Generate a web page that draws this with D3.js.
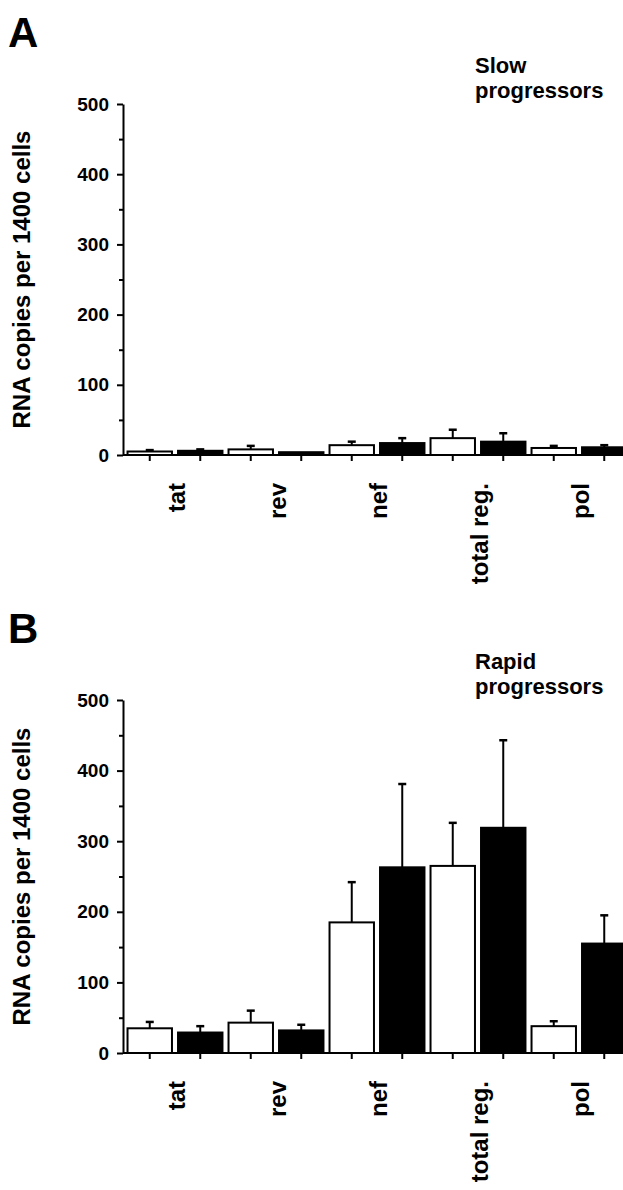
<!DOCTYPE html>
<html>
<head>
<meta charset="utf-8">
<script src="https://cdn.jsdelivr.net/npm/d3@7"></script>
<style>
  body { margin: 0; background: #fff; }
  svg { display: block; }
  text { font-family: "Liberation Sans", Arial, Helvetica, sans-serif; font-weight: bold; fill: #000; }
  .axis path, .axis line { stroke: #000; stroke-width: 2; }
</style>
</head>
<body>
<div id="chart"></div>
<script>
// values (RNA copies per 1400 cells, mean + error)
var genes = ["tat", "rev", "nef", "total reg.", "pol"];
var groups = ["open", "filled"];
var yTicks = [0, 100, 200, 300, 400, 500];

var slowOpen = [5, 8, 14, 24, 10],
    slowOpenErr = [2, 5, 5, 12, 3],
    slowFilled = [6, 4, 17, 19, 11],
    slowFilledErr = [2, 0, 7, 12, 3];

var rapidOpen = [35, 43, 185, 265, 38],
    rapidOpenErr = [9, 17, 57, 61, 7],
    rapidFilled = [29, 32, 263, 319, 155],
    rapidFilledErr = [9, 8, 118, 124, 40];

var width = 623, height = 1190;

var svg = d3.select("#chart").append("svg")
    .attr("width", width)
    .attr("height", height);

var x0 = d3.scaleBand()
    .domain(genes)
    .range([124.5, 629.5])
    .padding(0);

var x1 = d3.scaleBand()
    .domain(groups)
    .range([0, x0.bandwidth()])
    .paddingInner(0.12)
    .paddingOuter(0.06);

function drawPanel(opt) {
    var y = d3.scaleLinear().domain([0, 500]).range([opt.bottom, opt.top]);
    var g = svg.append("g");
    var axisX = x0.range()[0] - 1.5;

    // panel letter
    g.append("text")
        .attr("x", 8)
        .attr("y", opt.top - 57)
        .style("font-size", "42px")
        .text(opt.letter);

    // subtitle, two lines
    g.append("text")
        .attr("x", 475)
        .attr("y", opt.top - 31)
        .style("font-size", "22px")
        .text(opt.title[0]);
    g.append("text")
        .attr("x", 475)
        .attr("y", opt.top - 6)
        .style("font-size", "22px")
        .text(opt.title[1]);

    // y axis, major ticks with labels
    var yAxis = d3.axisLeft(y)
        .tickValues(yTicks)
        .tickSize(6)
        .tickPadding(8)
        .tickSizeOuter(0);
    var gy = g.append("g")
        .attr("class", "axis")
        .attr("transform", "translate(" + axisX + ",0)")
        .call(yAxis);
    gy.selectAll("text").style("font-size", "19px").style("font-family", "Liberation Sans, Arial, sans-serif");

    // minor ticks
    g.append("g")
        .attr("class", "axis")
        .attr("transform", "translate(" + axisX + ",0)")
        .call(d3.axisLeft(y).tickValues([50, 150, 250, 350, 450]).tickSize(4).tickFormat("").tickSizeOuter(0))
        .select(".domain").remove();

    // y label
    g.append("text")
        .attr("transform", "translate(" + 22 + "," + y(250) + ") rotate(-90)")
        .attr("text-anchor", "middle")
        .attr("dy", "0.35em")
        .style("font-size", "24px")
        .text("RNA copies per 1400 cells");

    var rows = [];
    genes.forEach(function(gene, i) {
        rows.push({gene: gene, grp: "open", v: opt.open[i], e: opt.openErr[i]});
        rows.push({gene: gene, grp: "filled", v: opt.filled[i], e: opt.filledErr[i]});
    });

    function cx(d) { return x0(d.gene) + x1(d.grp) + x1.bandwidth() / 2; }

    // error bars (upper only)
    var eb = g.append("g").selectAll("g")
        .data(rows.filter(function(d) { return d.e > 0; }))
        .enter().append("g");
    eb.append("line")
        .attr("x1", cx).attr("x2", cx)
        .attr("y1", function(d) { return y(d.v); })
        .attr("y2", function(d) { return y(d.v + d.e); })
        .attr("stroke", "#000").attr("stroke-width", 2);
    eb.append("line")
        .attr("x1", function(d) { return cx(d) - 4; })
        .attr("x2", function(d) { return cx(d) + 4; })
        .attr("y1", function(d) { return y(d.v + d.e); })
        .attr("y2", function(d) { return y(d.v + d.e); })
        .attr("stroke", "#000").attr("stroke-width", 2.5);

    // bars
    g.append("g").selectAll("rect")
        .data(rows)
        .enter().append("rect")
        .attr("x", function(d) { return x0(d.gene) + x1(d.grp); })
        .attr("width", x1.bandwidth())
        .attr("y", function(d) { return y(d.v); })
        .attr("height", function(d) { return y(0) - y(d.v); })
        .attr("fill", function(d) { return d.grp == "open" ? "#fff" : "#000"; })
        .attr("stroke", "#000")
        .attr("stroke-width", 2);

    // x baseline and ticks under each bar
    g.append("line")
        .attr("x1", axisX).attr("x2", width)
        .attr("y1", y(0)).attr("y2", y(0))
        .attr("stroke", "#000").attr("stroke-width", 2);
    g.append("g").selectAll("line")
        .data(rows)
        .enter().append("line")
        .attr("x1", cx).attr("x2", cx)
        .attr("y1", y(0)).attr("y2", y(0) + 6)
        .attr("stroke", "#000").attr("stroke-width", 2);

    // gene labels
    g.append("g").selectAll("text")
        .data(genes)
        .enter().append("text")
        .attr("transform", function(d) {
            return "translate(" + (x0(d) + x0.bandwidth() / 2 + 2) + "," + (y(0) + 28) + ") rotate(-90)";
        })
        .attr("text-anchor", "end")
        .attr("dy", "0.35em")
        .style("font-size", "24px")
        .text(function(d) { return d; });
}

drawPanel({
    letter: "A", title: ["Slow", "progressors"],
    top: 104, bottom: 455,
    open: slowOpen, openErr: slowOpenErr,
    filled: slowFilled, filledErr: slowFilledErr
});

drawPanel({
    letter: "B", title: ["Rapid", "progressors"],
    top: 700, bottom: 1053,
    open: rapidOpen, openErr: rapidOpenErr,
    filled: rapidFilled, filledErr: rapidFilledErr
});
</script>
</body>
</html>
